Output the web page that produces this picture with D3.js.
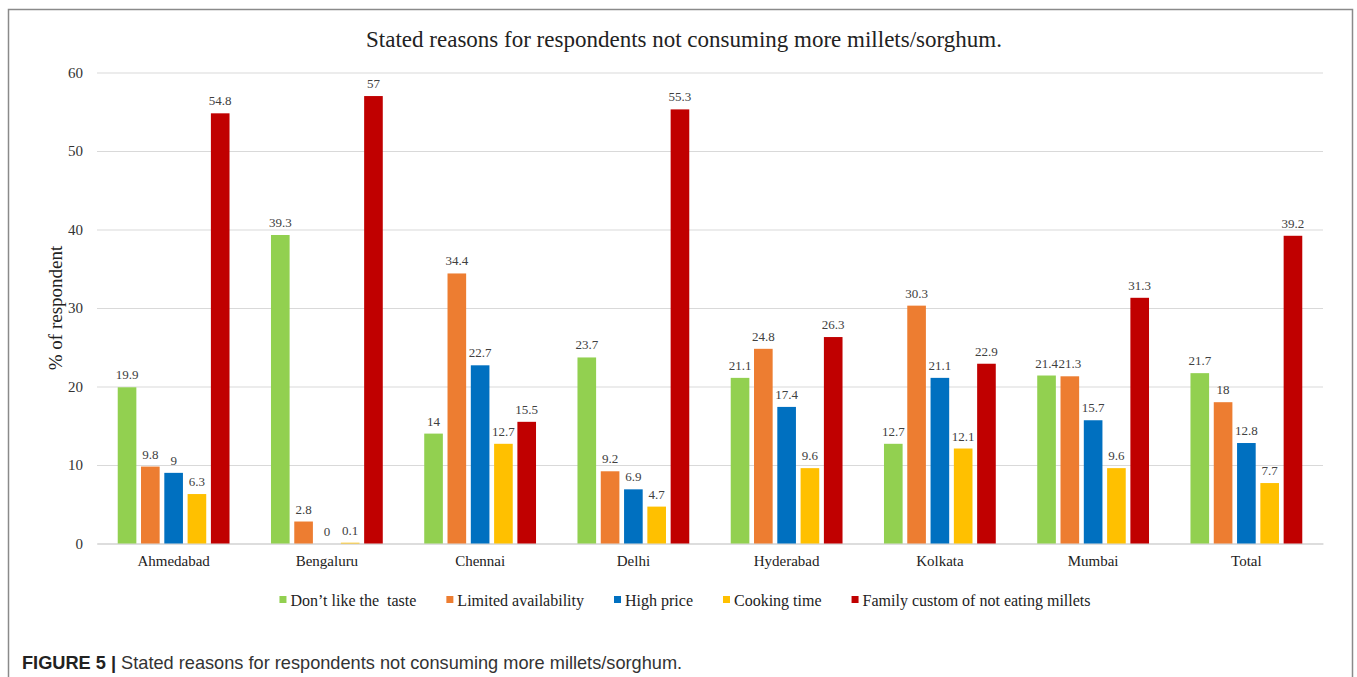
<!DOCTYPE html>
<html>
<head>
<meta charset="utf-8">
<script src="https://cdn.jsdelivr.net/npm/d3@7/dist/d3.min.js"></script>
<style>
  html, body { margin: 0; padding: 0; background: #fff; }
  svg { display: block; }
  text { white-space: pre; }
</style>
</head>
<body>
<svg id="chart" width="1357" height="677"></svg>
<script>
// Survey results: share of respondents giving each reason, by city
const cities = ["Ahmedabad", "Bengaluru", "Chennai", "Delhi", "Hyderabad", "Kolkata", "Mumbai", "Total"];
const reasons = ["Don\u2019t like the  taste", "Limited availability", "High price", "Cooking time", "Family custom of not eating millets"];
const dislikeTaste   = [19.9, 39.3, 14,   23.7, 21.1, 12.7, 21.4, 21.7];
const limitedAvail   = [9.8,  2.8,  34.4, 9.2,  24.8, 30.3, 21.3, 18];
const highPrice      = [9,    0,    22.7, 6.9,  17.4, 21.1, 15.7, 12.8];
const cookingTime    = [6.3,  0.1,  12.7, 4.7,  9.6,  12.1, 9.6,  7.7];
const familyCustom   = [54.8, 57,   15.5, 55.3, 26.3, 22.9, 31.3, 39.2];
const yTicks = [0, 10, 20, 30, 40, 50, 60];
const colors = ["#92D050", "#ED7D31", "#0070C0", "#FFC000", "#C00000"];

const seriesValues = [dislikeTaste, limitedAvail, highPrice, cookingTime, familyCustom];

const svg = d3.select("#chart");
const serif = "'Liberation Serif', 'Times New Roman', serif";
const sans = "'Liberation Sans', Arial, sans-serif";

// outer figure frame
svg.append("rect")
  .attr("x", 8.5).attr("y", 9.5)
  .attr("width", 1344).attr("height", 720)
  .attr("fill", "none").attr("stroke", "#8a8a8a").attr("stroke-width", 1.5);

const plot = { left: 97, right: 1323, top: 72.5, bottom: 543.5 };

const x0 = d3.scaleBand().domain(cities).range([plot.left, plot.right]).padding(0);
const innerW = 111.8;
const innerOff = (x0.bandwidth() - innerW) / 2;
const x1 = d3.scaleBand().domain(d3.range(reasons.length))
  .range([innerOff, innerOff + innerW]).paddingInner(0.2).paddingOuter(0);
const y = d3.scaleLinear().domain([0, 60]).range([plot.bottom, plot.top]);

// title
svg.append("text")
  .attr("x", 684).attr("y", 47)
  .attr("text-anchor", "middle")
  .attr("font-family", serif).attr("font-size", 23).attr("fill", "#222")
  .text("Stated reasons for respondents not consuming more millets/sorghum.");

// gridlines + y tick labels
const yAxis = d3.axisLeft(y).tickValues(yTicks).tickSize(-(plot.right - plot.left)).tickPadding(14);
const gy = svg.append("g").attr("transform", `translate(${plot.left},0)`).call(yAxis);
gy.select(".domain").remove();
gy.selectAll(".tick line").attr("stroke", "#d9d9d9").attr("stroke-width", 1.2);
gy.selectAll(".tick text")
  .attr("font-family", serif).attr("font-size", 15).attr("fill", "#333");

// x axis baseline and category labels
const xAxis = d3.axisBottom(x0).tickSize(0).tickPadding(12);
const gx = svg.append("g").attr("transform", `translate(0,${plot.bottom})`).call(xAxis);
gx.select(".domain").attr("stroke", "#d9d9d9").attr("stroke-width", 1.5);
gx.selectAll(".tick text")
  .attr("font-family", serif).attr("font-size", 15).attr("fill", "#222");

// y axis title
svg.append("text")
  .attr("transform", `translate(62,${(plot.top + plot.bottom) / 2}) rotate(-90)`)
  .attr("text-anchor", "middle")
  .attr("font-family", serif).attr("font-size", 19).attr("fill", "#222")
  .text("% of respondent");

// bars
const groups = svg.append("g").selectAll("g")
  .data(cities)
  .join("g")
  .attr("transform", d => `translate(${x0(d)},0)`);

const barData = (city, ci) => seriesValues.map((vals, si) => ({ si, value: vals[ci] }));

groups.selectAll("rect")
  .data((d, ci) => barData(d, ci))
  .join("rect")
  .attr("x", d => x1(d.si))
  .attr("width", x1.bandwidth())
  .attr("y", d => y(d.value))
  .attr("height", d => y(0) - y(d.value))
  .attr("fill", d => colors[d.si]);

// value labels
groups.selectAll("text.val")
  .data((d, ci) => barData(d, ci))
  .join("text")
  .attr("class", "val")
  .attr("x", d => x1(d.si) + x1.bandwidth() / 2)
  .attr("y", d => y(d.value) - 8)
  .attr("text-anchor", "middle")
  .attr("font-family", serif).attr("font-size", 13).attr("fill", "#404040")
  .text(d => d.value);

// legend
const legend = svg.append("g").attr("transform", "translate(0,600)");
const items = legend.selectAll("g").data(reasons).join("g");
items.append("rect")
  .attr("width", 7).attr("height", 7).attr("y", -4)
  .attr("fill", (d, i) => colors[i]);
items.append("text")
  .attr("x", 11).attr("y", 5.5)
  .attr("font-family", serif).attr("font-size", 16).attr("fill", "#222")
  .text(d => d);
let cursor = 0;
const widths = [];
items.each(function () {
  widths.push(this.getBBox().width);
});
const totalW = d3.sum(widths) + 30 * (widths.length - 1);
cursor = 685 - totalW / 2;
items.attr("transform", (d, i) => {
  const t = `translate(${cursor},0)`;
  cursor += widths[i] + 30;
  return t;
});

// figure caption
const cap = svg.append("text")
  .attr("x", 22).attr("y", 669)
  .attr("font-family", sans).attr("font-size", 18.2).attr("fill", "#333");
cap.append("tspan").attr("font-weight", "bold").attr("fill", "#222").text("FIGURE 5 | ");
cap.append("tspan").text("Stated reasons for respondents not consuming more millets/sorghum.");
</script>
</body>
</html>
